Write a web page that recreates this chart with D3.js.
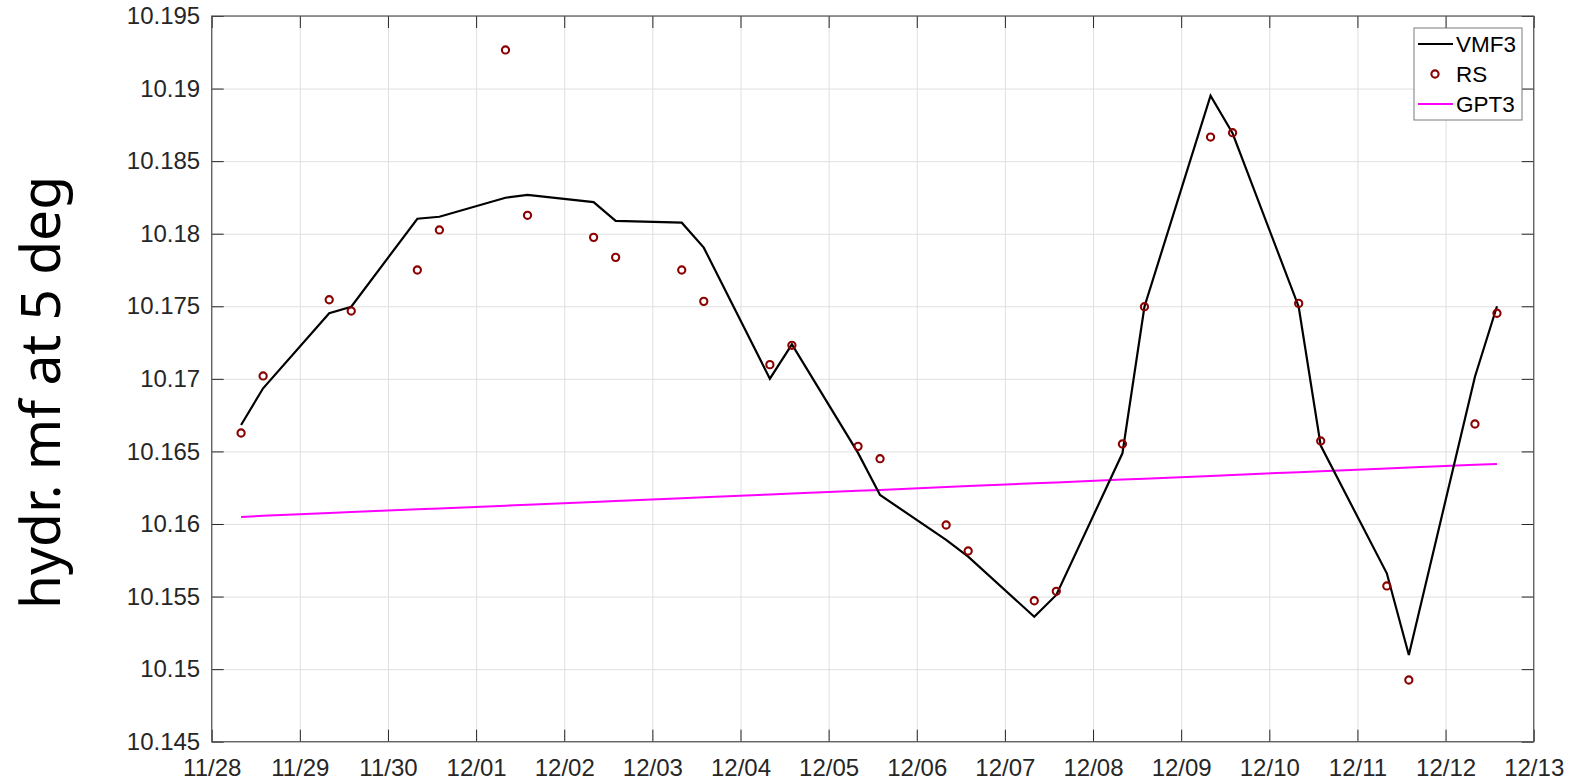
<!DOCTYPE html>
<html>
<head>
<meta charset="utf-8">
<script src="https://cdn.jsdelivr.net/npm/d3@7"></script>
<style>
  html, body { margin: 0; padding: 0; background: #fff; }
  svg { display: block; }
</style>
</head>
<body>
<svg id="chart" width="1571" height="782"></svg>
<script>
// ---- data ----
const epochs = [
  "2019-11-28T08:00Z","2019-11-28T14:00Z","2019-11-29T08:00Z","2019-11-29T14:00Z",
  "2019-11-30T08:00Z","2019-11-30T14:00Z","2019-12-01T08:00Z","2019-12-01T14:00Z",
  "2019-12-02T08:00Z","2019-12-02T14:00Z","2019-12-03T08:00Z","2019-12-03T14:00Z",
  "2019-12-04T08:00Z","2019-12-04T14:00Z","2019-12-05T08:00Z","2019-12-05T14:00Z",
  "2019-12-06T08:00Z","2019-12-06T14:00Z","2019-12-07T08:00Z","2019-12-07T14:00Z",
  "2019-12-08T08:00Z","2019-12-08T14:00Z","2019-12-09T08:00Z","2019-12-09T14:00Z",
  "2019-12-10T08:00Z","2019-12-10T14:00Z","2019-12-11T08:00Z","2019-12-11T14:00Z",
  "2019-12-12T08:00Z","2019-12-12T14:00Z"
];
const vmf3 = [
  10.16682, 10.16935, 10.17452, 10.17497, 10.18103, 10.18117, 10.18248, 10.18267,
  10.18218, 10.18088, 10.18076, 10.17904, 10.17001, 10.17238, 10.16490, 10.16200,
  10.15890, 10.15775, 10.15361, 10.15511, 10.16487, 10.17497, 10.18951, 10.18692,
  10.17497, 10.16540, 10.15660, 10.15097, 10.17015, 10.17500
];
const rs = [
  10.16627, 10.17020, 10.17545, 10.17467, 10.17750, 10.18026, 10.19266, 10.18127,
  10.17975, 10.17837, 10.17750, 10.17534, 10.17098, 10.17231, 10.16535, 10.16450,
  10.15993, 10.15814, 10.15471, 10.15536, 10.16551, 10.17497, 10.18666, 10.18696,
  10.17520, 10.16572, 10.15573, 10.14925, 10.16689, 10.17452
];
const gpt3 = [
  10.16048, 10.16056, 10.16075, 10.16082, 10.16101, 10.16107, 10.16126, 10.16133,
  10.16152, 10.16158, 10.16178, 10.16184, 10.16203, 10.16210, 10.16229, 10.16235,
  10.16254, 10.16261, 10.16280, 10.16286, 10.16306, 10.16312, 10.16331, 10.16338,
  10.16357, 10.16363, 10.16382, 10.16389, 10.16408, 10.16413
];
const xTickLabels = ["11/28","11/29","11/30","12/01","12/02","12/03","12/04","12/05",
  "12/06","12/07","12/08","12/09","12/10","12/11","12/12","12/13"];
const yTicks = [10.145, 10.15, 10.155, 10.16, 10.165, 10.17, 10.175, 10.18, 10.185, 10.19, 10.195];
const yTickLabels = ["10.145","10.15","10.155","10.16","10.165","10.17","10.175","10.18","10.185","10.19","10.195"];
const seriesNames = ["VMF3", "RS", "GPT3"];
const yLabel = "hydr. mf at 5 deg";

// ---- layout ----
const svg = d3.select("#chart");
const L = 211.7, R = 1533.7, T = 16, B = 741.7;
const W = R - L, H = B - T;

const parse = d3.utcParse("%Y-%m-%dT%H:%MZ");
const dates = epochs.map(parse);
const xStart = Date.UTC(2019, 10, 28), xEnd = Date.UTC(2019, 11, 13);
const x = d3.scaleUtc().domain([new Date(xStart), new Date(xEnd)]).range([L, R]);
const y = d3.scaleLinear().domain([10.145, 10.195]).range([B, T]);
const xTickDates = xTickLabels.map((s, i) => new Date(xStart + i * 864e5));

const axColor = "#262626";
const font = "'Liberation Sans', Arial, Helvetica, sans-serif";

// grid
const grid = svg.append("g");
grid.append("g").attr("transform", `translate(0,${B})`)
  .call(d3.axisBottom(x).tickValues(xTickDates).tickSize(-H).tickFormat(""))
  .call(g => g.select(".domain").remove())
  .call(g => g.selectAll("line").attr("stroke", "#dfdfdf").attr("stroke-width", 1));
grid.append("g").attr("transform", `translate(${L},0)`)
  .call(d3.axisLeft(y).tickValues(yTicks).tickSize(-W).tickFormat(""))
  .call(g => g.select(".domain").remove())
  .call(g => g.selectAll("line").attr("stroke", "#dfdfdf").attr("stroke-width", 1));

// series
const plot = svg.append("g");
const lineGen = d3.line().x((d, i) => x(dates[i])).y(d => y(d));
plot.append("path").datum(gpt3).attr("d", lineGen)
  .attr("fill", "none").attr("stroke", "#ff00ff").attr("stroke-width", 2);
plot.append("path").datum(vmf3).attr("d", lineGen)
  .attr("fill", "none").attr("stroke", "#000").attr("stroke-width", 2.2).attr("stroke-linejoin", "miter");
plot.selectAll("circle.rs").data(rs).join("circle").attr("class", "rs")
  .attr("cx", (d, i) => x(dates[i])).attr("cy", d => y(d)).attr("r", 3.6)
  .attr("fill", "none").attr("stroke", "#8b0000").attr("stroke-width", 2.1);

// axes (ticks inward on all four sides)
function styleAxis(g) {
  g.select(".domain").remove();
  g.selectAll("line").attr("stroke", axColor).attr("stroke-width", 1);
  g.selectAll("text").attr("fill", axColor).style("font-family", font).style("font-size", "24px");
}
svg.append("g").attr("transform", `translate(0,${B})`)
  .call(d3.axisBottom(x).tickValues(xTickDates).tickSizeInner(-12).tickSizeOuter(0).tickPadding(17)
    .tickFormat((d, i) => xTickLabels[i]))
  .call(styleAxis);
svg.append("g").attr("transform", `translate(0,${T})`)
  .call(d3.axisTop(x).tickValues(xTickDates).tickSizeInner(-12).tickSizeOuter(0).tickFormat(""))
  .call(styleAxis);
svg.append("g").attr("transform", `translate(${L},0)`)
  .call(d3.axisLeft(y).tickValues(yTicks).tickSizeInner(-12).tickSizeOuter(0).tickPadding(11.5)
    .tickFormat((d, i) => yTickLabels[i]))
  .call(styleAxis);
svg.append("g").attr("transform", `translate(${R},0)`)
  .call(d3.axisRight(y).tickValues(yTicks).tickSizeInner(-12).tickSizeOuter(0).tickFormat(""))
  .call(styleAxis);
svg.append("rect").attr("x", L).attr("y", T).attr("width", W).attr("height", H)
  .attr("fill", "none").attr("stroke", "#555").attr("stroke-width", 1.2);

// y label
svg.append("text")
  .attr("transform", `translate(60,392.5) rotate(-90)`)
  .attr("text-anchor", "middle")
  .style("font-family", "'Noto Sans', 'Open Sans', sans-serif")
  .style("font-size", "55px")
  .attr("fill", "#000")
  .text(yLabel);

// legend
const lg = svg.append("g");
lg.append("rect").attr("x", 1414).attr("y", 28).attr("width", 108).attr("height", 92)
  .attr("fill", "#fff").attr("stroke", "#7a7a7a").attr("stroke-width", 1);
const rowY = [44, 74, 104];
lg.append("line").attr("x1", 1418).attr("x2", 1453).attr("y1", rowY[0]).attr("y2", rowY[0])
  .attr("stroke", "#000").attr("stroke-width", 2);
lg.append("circle").attr("cx", 1435).attr("cy", rowY[1]).attr("r", 3.6)
  .attr("fill", "none").attr("stroke", "#8b0000").attr("stroke-width", 2.1);
lg.append("line").attr("x1", 1418).attr("x2", 1453).attr("y1", rowY[2]).attr("y2", rowY[2])
  .attr("stroke", "#ff00ff").attr("stroke-width", 2);
lg.selectAll("text.lt").data(seriesNames).join("text").attr("class", "lt")
  .attr("x", 1456).attr("y", (d, i) => rowY[i]).attr("dy", "0.36em")
  .style("font-family", font).style("font-size", "22.5px").attr("fill", "#000")
  .text(d => d);
</script>
</body>
</html>
